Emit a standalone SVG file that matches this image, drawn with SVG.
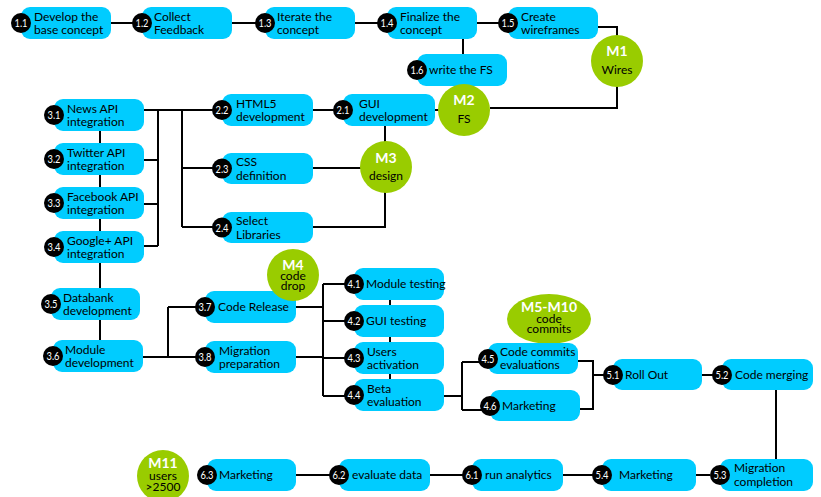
<svg xmlns="http://www.w3.org/2000/svg" width="821" height="497" viewBox="0 0 821 497">
<style>
text{font-family:Lato,"Open Sans","Liberation Sans",sans-serif}
.b{fill:#00ccff}
.c{fill:#000}
.n{fill:#fff;font-size:12px;text-anchor:middle}
.t{fill:#000;font-size:12px}
.m{fill:#9c0}
.mh{fill:#fff;font-size:14px;font-weight:bold;text-anchor:middle}
.ms{fill:#000;font-size:12px;text-anchor:middle}
#connectors path{fill:none;stroke:#000;stroke-width:2}
</style>
<rect width="821" height="497" fill="#fff"/>
<g id="connectors">
<path d="M111,23H142M232,23H265M355,23H387M477,23H508M463,39V54"/>
<path d="M598,27H617V108H490"/>
<path d="M435,110H440M313,110H343M385,126V142"/>
<path d="M313,168H362M313,227H385V192"/>
<path d="M144,110H222M158,110V246M144,160H158M144,204H158M144,246H158"/>
<path d="M182,110V227M182,168H222M182,227H222"/>
<path d="M100,131V340"/>
<path d="M143,357H168M168,307V357M168,307H205M168,357H205"/>
<path d="M296,307H323M296,357H323M323,284V396M323,284H354M323,321H354M323,358H354M323,396H354M390,300V379"/>
<path d="M444,396H462M462,362V410M462,362H488M462,410H490"/>
<path d="M578,361H593V409H580M593,375H613M702,375H722M776,390V459"/>
<path d="M710,475H696M602,475H563M472,475H430M339,475H296"/>
</g>
<g id="n1_1"><rect class="b" x="21" y="7" width="90" height="32" rx="9"/><circle class="c" cx="21" cy="23" r="10"/><text class="n" x="21" y="27.3" textLength="13" lengthAdjust="spacingAndGlyphs">1.1</text><text class="t" x="34" y="20.5">Develop the</text><text class="t" x="34" y="34">base concept</text></g>
<g id="n1_2"><rect class="b" x="142" y="7" width="90" height="32" rx="9"/><circle class="c" cx="142" cy="23" r="10"/><text class="n" x="142" y="27.3" textLength="13" lengthAdjust="spacingAndGlyphs">1.2</text><text class="t" x="154" y="20.5">Collect</text><text class="t" x="154" y="34">Feedback</text></g>
<g id="n1_3"><rect class="b" x="265" y="7" width="90" height="32" rx="9"/><circle class="c" cx="265" cy="23" r="10"/><text class="n" x="265" y="27.3" textLength="13" lengthAdjust="spacingAndGlyphs">1.3</text><text class="t" x="277" y="20.5">Iterate the</text><text class="t" x="277" y="34">concept</text></g>
<g id="n1_4"><rect class="b" x="387" y="7" width="90" height="32" rx="9"/><circle class="c" cx="387" cy="23" r="10"/><text class="n" x="387" y="27.3" textLength="13" lengthAdjust="spacingAndGlyphs">1.4</text><text class="t" x="400" y="20.5">Finalize the</text><text class="t" x="400" y="34">concept</text></g>
<g id="n1_5"><rect class="b" x="508" y="7" width="90" height="32" rx="9"/><circle class="c" cx="508" cy="23" r="10"/><text class="n" x="508" y="27.3" textLength="13" lengthAdjust="spacingAndGlyphs">1.5</text><text class="t" x="521" y="20.5">Create</text><text class="t" x="521" y="34">wireframes</text></g>
<g id="n1_6"><rect class="b" x="417" y="54" width="90" height="32" rx="9"/><circle class="c" cx="417" cy="70" r="10"/><text class="n" x="417" y="74.3" textLength="13" lengthAdjust="spacingAndGlyphs">1.6</text><text class="t" x="429" y="74">write the FS</text></g>
<g id="m1"><circle class="m" cx="617" cy="61" r="26"/><text class="mh" x="617" y="56">M1</text><text class="ms" x="617" y="74">Wires</text></g>
<g id="m2"><circle class="m" cx="464" cy="110" r="26"/><text class="mh" x="464" y="105">M2</text><text class="ms" x="464" y="123">FS</text></g>
<g id="n2_1"><rect class="b" x="343" y="94" width="92" height="32" rx="9"/><circle class="c" cx="343" cy="110" r="10"/><text class="n" x="343" y="114.3" textLength="13" lengthAdjust="spacingAndGlyphs">2.1</text><text class="t" x="359" y="107.5">GUI</text><text class="t" x="359" y="121">development</text></g>
<g id="n2_2"><rect class="b" x="222" y="94" width="91" height="32" rx="9"/><circle class="c" cx="222" cy="110" r="10"/><text class="n" x="222" y="114.3" textLength="13" lengthAdjust="spacingAndGlyphs">2.2</text><text class="t" x="236" y="107.5">HTML5</text><text class="t" x="236" y="121">development</text></g>
<g id="n2_3"><rect class="b" x="222" y="153" width="91" height="31" rx="9"/><circle class="c" cx="222" cy="168.5" r="10"/><text class="n" x="222" y="172.8" textLength="13" lengthAdjust="spacingAndGlyphs">2.3</text><text class="t" x="236" y="166">CSS</text><text class="t" x="236" y="179.5">definition</text></g>
<g id="n2_4"><rect class="b" x="222" y="212" width="91" height="31" rx="9"/><circle class="c" cx="222" cy="227.5" r="10"/><text class="n" x="222" y="231.8" textLength="13" lengthAdjust="spacingAndGlyphs">2.4</text><text class="t" x="236" y="225">Select</text><text class="t" x="236" y="238.5">Libraries</text></g>
<g id="m3"><circle class="m" cx="386" cy="167" r="26"/><text class="mh" x="386" y="162.5">M3</text><text class="ms" x="386" y="180">design</text></g>
<g id="n3_1"><rect class="b" x="54" y="99" width="90" height="32" rx="9"/><circle class="c" cx="54" cy="115" r="10"/><text class="n" x="54" y="119.3" textLength="13" lengthAdjust="spacingAndGlyphs">3.1</text><text class="t" x="67" y="112.5">News API</text><text class="t" x="67" y="126">integration</text></g>
<g id="n3_2"><rect class="b" x="54" y="143" width="90" height="32" rx="9"/><circle class="c" cx="54" cy="159" r="10"/><text class="n" x="54" y="163.3" textLength="13" lengthAdjust="spacingAndGlyphs">3.2</text><text class="t" x="67" y="156.5">Twitter API</text><text class="t" x="67" y="170">integration</text></g>
<g id="n3_3"><rect class="b" x="54" y="187" width="90" height="32" rx="9"/><circle class="c" cx="54" cy="203" r="10"/><text class="n" x="54" y="207.3" textLength="13" lengthAdjust="spacingAndGlyphs">3.3</text><text class="t" x="67" y="200.5">Facebook API</text><text class="t" x="67" y="214">integration</text></g>
<g id="n3_4"><rect class="b" x="54" y="231" width="90" height="32" rx="9"/><circle class="c" cx="54" cy="247" r="10"/><text class="n" x="54" y="251.3" textLength="13" lengthAdjust="spacingAndGlyphs">3.4</text><text class="t" x="67" y="244.5">Google+ API</text><text class="t" x="67" y="258">integration</text></g>
<g id="n3_5"><rect class="b" x="51" y="288" width="89" height="32" rx="9"/><circle class="c" cx="51" cy="304" r="10"/><text class="n" x="51" y="308.3" textLength="13" lengthAdjust="spacingAndGlyphs">3.5</text><text class="t" x="63" y="301.5">Databank</text><text class="t" x="63" y="315">development</text></g>
<g id="n3_6"><rect class="b" x="53" y="340" width="90" height="32" rx="9"/><circle class="c" cx="53" cy="356" r="10"/><text class="n" x="53" y="360.3" textLength="13" lengthAdjust="spacingAndGlyphs">3.6</text><text class="t" x="65" y="353.5">Module</text><text class="t" x="65" y="367">development</text></g>
<g id="n3_7"><rect class="b" x="205" y="291" width="91" height="32" rx="9"/><circle class="c" cx="205" cy="307" r="10"/><text class="n" x="205" y="311.3" textLength="13" lengthAdjust="spacingAndGlyphs">3.7</text><text class="t" x="218" y="311">Code Release</text></g>
<g id="n3_8"><rect class="b" x="205" y="341" width="91" height="32" rx="9"/><circle class="c" cx="205" cy="357" r="10"/><text class="n" x="205" y="361.3" textLength="13" lengthAdjust="spacingAndGlyphs">3.8</text><text class="t" x="219" y="354.5">Migration</text><text class="t" x="219" y="368">preparation</text></g>
<g id="m4"><circle class="m" cx="293" cy="275" r="26"/><text class="mh" x="293" y="269.5">M4</text><text class="ms" x="293" y="279.5">code</text><text class="ms" x="293" y="289.5">drop</text></g>
<g id="n4_1"><rect class="b" x="354" y="268" width="90" height="32" rx="9"/><circle class="c" cx="354" cy="284" r="10"/><text class="n" x="354" y="288.3" textLength="13" lengthAdjust="spacingAndGlyphs">4.1</text><text class="t" x="366" y="288">Module testing</text></g>
<g id="n4_2"><rect class="b" x="354" y="305" width="90" height="32" rx="9"/><circle class="c" cx="354" cy="321" r="10"/><text class="n" x="354" y="325.3" textLength="13" lengthAdjust="spacingAndGlyphs">4.2</text><text class="t" x="366" y="325">GUI testing</text></g>
<g id="n4_3"><rect class="b" x="354" y="342" width="90" height="32" rx="9"/><circle class="c" cx="354" cy="358" r="10"/><text class="n" x="354" y="362.3" textLength="13" lengthAdjust="spacingAndGlyphs">4.3</text><text class="t" x="367" y="355.5">Users</text><text class="t" x="367" y="369">activation</text></g>
<g id="n4_4"><rect class="b" x="354" y="379" width="90" height="32" rx="9"/><circle class="c" cx="354" cy="395" r="10"/><text class="n" x="354" y="399.3" textLength="13" lengthAdjust="spacingAndGlyphs">4.4</text><text class="t" x="367" y="392.5">Beta</text><text class="t" x="367" y="406">evaluation</text></g>
<g id="m5_10"><ellipse class="m" cx="549" cy="319" rx="42" ry="25"/><text class="mh" x="549" y="311.5">M5-M10</text><text class="ms" x="549" y="322.5">code</text><text class="ms" x="549" y="333">commits</text></g>
<g id="n4_5"><rect class="b" x="488" y="343" width="90" height="31" rx="9"/><circle class="c" cx="488" cy="359" r="10"/><text class="n" x="488" y="363.3" textLength="13" lengthAdjust="spacingAndGlyphs">4.5</text><text class="t" x="500" y="355.5">Code commits</text><text class="t" x="500" y="369">evaluations</text></g>
<g id="n4_6"><rect class="b" x="490" y="390" width="90" height="31" rx="9"/><circle class="c" cx="490" cy="406" r="10"/><text class="n" x="490" y="410.3" textLength="13" lengthAdjust="spacingAndGlyphs">4.6</text><text class="t" x="502" y="410">Marketing</text></g>
<g id="n5_1"><rect class="b" x="613" y="359" width="89" height="31" rx="9"/><circle class="c" cx="613" cy="375" r="10"/><text class="n" x="613" y="379.3" textLength="13" lengthAdjust="spacingAndGlyphs">5.1</text><text class="t" x="625" y="379">Roll Out</text></g>
<g id="n5_2"><rect class="b" x="722" y="359" width="91" height="31" rx="9"/><circle class="c" cx="722" cy="375" r="10"/><text class="n" x="722" y="379.3" textLength="13" lengthAdjust="spacingAndGlyphs">5.2</text><text class="t" x="735" y="379">Code merging</text></g>
<g id="n5_3"><rect class="b" x="720" y="459" width="93" height="32" rx="9"/><circle class="c" cx="720" cy="475" r="10"/><text class="n" x="720" y="479.3" textLength="13" lengthAdjust="spacingAndGlyphs">5.3</text><text class="t" x="734" y="472">Migration</text><text class="t" x="734" y="485.5">completion</text></g>
<g id="n5_4"><rect class="b" x="602" y="459" width="94" height="32" rx="9"/><circle class="c" cx="602" cy="475" r="10"/><text class="n" x="602" y="479.3" textLength="13" lengthAdjust="spacingAndGlyphs">5.4</text><text class="t" x="619" y="479">Marketing</text></g>
<g id="n6_1"><rect class="b" x="472" y="459" width="91" height="32" rx="9"/><circle class="c" cx="472" cy="475" r="10"/><text class="n" x="472" y="479.3" textLength="13" lengthAdjust="spacingAndGlyphs">6.1</text><text class="t" x="485" y="479">run analytics</text></g>
<g id="n6_2"><rect class="b" x="339" y="459" width="91" height="32" rx="9"/><circle class="c" cx="339" cy="475" r="10"/><text class="n" x="339" y="479.3" textLength="13" lengthAdjust="spacingAndGlyphs">6.2</text><text class="t" x="352" y="479">evaluate data</text></g>
<g id="n6_3"><rect class="b" x="207" y="459" width="89" height="32" rx="9"/><circle class="c" cx="207" cy="475" r="10"/><text class="n" x="207" y="479.3" textLength="13" lengthAdjust="spacingAndGlyphs">6.3</text><text class="t" x="219" y="479">Marketing</text></g>
<g id="m11"><circle class="m" cx="163" cy="476" r="26"/><text class="mh" x="163" y="468">M11</text><text class="ms" x="163" y="480">users</text><text class="ms" x="163" y="491">&gt;2500</text></g>
</svg>
